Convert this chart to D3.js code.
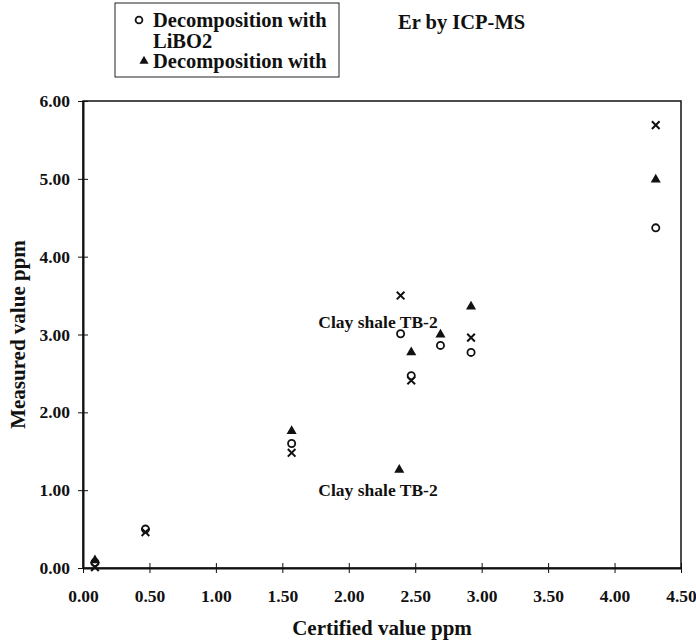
<!DOCTYPE html>
<html>
<head>
<meta charset="utf-8">
<script src="https://cdn.jsdelivr.net/npm/d3@7"></script>
<style>
  body { margin: 0; background: #fff; }
  svg text { font-family: "Liberation Serif", "Times New Roman", serif; font-weight: bold; fill: #111; }
</style>
</head>
<body>
<svg width="696" height="642"></svg>
<script>
// certified (x) and measured (y) values, ppm
const libo2X = [0.09, 0.47, 1.57, 2.39, 2.47, 2.69, 2.92, 4.31];
const libo2Y = [0.07, 0.50, 1.60, 3.01, 2.47, 2.86, 2.77, 4.37];
const triX = [0.09, 1.57, 2.38, 2.47, 2.69, 2.92, 4.31];
const triY = [0.10, 1.76, 1.26, 2.77, 3.00, 3.36, 4.99];
const crossX = [0.09, 0.47, 1.57, 2.39, 2.47, 2.92, 4.31];
const crossY = [0.01, 0.46, 1.48, 3.50, 2.41, 2.96, 5.69];

const xTicks = [0, 0.5, 1, 1.5, 2, 2.5, 3, 3.5, 4, 4.5];
const yTicks = [0, 1, 2, 3, 4, 5, 6];

const notes = [
  { label: 'Clay shale TB-2', x: 2.22, y: 3.08 },
  { label: 'Clay shale TB-2', x: 2.22, y: 0.92 }
];

const svg = d3.select('svg');
const margin = { top: 101, right: 15, bottom: 74, left: 83 };
const width = 696 - margin.left - margin.right;
const height = 642 - margin.top - margin.bottom;

const chart = svg.append('g')
  .attr('transform', `translate(${margin.left}, ${margin.top})`);

const xScale = d3.scaleLinear().domain([0, 4.5]).range([0, width]);
const yScale = d3.scaleLinear().domain([0, 6]).range([height, 0]);

// frame
chart.append('rect')
  .attr('width', width)
  .attr('height', height)
  .attr('fill', 'none')
  .attr('stroke', '#111')
  .attr('stroke-width', 1.5);

const xAxis = chart.append('g')
  .attr('transform', `translate(0, ${height})`)
  .call(d3.axisBottom(xScale).tickValues(xTicks).tickFormat(d3.format('.2f')).tickSizeInner(5).tickSizeOuter(0).tickPadding(17));
xAxis.selectAll('.tick line').attr('y1', -5);

const yAxis = chart.append('g')
  .call(d3.axisLeft(yScale).tickValues(yTicks).tickFormat(d3.format('.2f')).tickSizeInner(5).tickSizeOuter(0).tickPadding(8));
yAxis.selectAll('.tick line').attr('x1', 5);

[xAxis, yAxis].forEach((a) => {
  a.select('.domain').attr('stroke', '#111').attr('stroke-width', 2);
  a.selectAll('.tick line').attr('stroke', '#111').attr('stroke-width', 1);
  a.selectAll('.tick text').style('font-size', '17.5px');
});

// series
chart.selectAll('.circ')
  .data(libo2X.map((x, i) => [x, libo2Y[i]]))
  .enter().append('circle')
  .attr('class', 'circ')
  .attr('cx', (d) => xScale(d[0]))
  .attr('cy', (d) => yScale(d[1]))
  .attr('r', 3.6)
  .attr('fill', 'none')
  .attr('stroke', '#111')
  .attr('stroke-width', 1.8);

const triangle = d3.symbol().type(d3.symbolTriangle).size(44);
chart.selectAll('.tri')
  .data(triX.map((x, i) => [x, triY[i]]))
  .enter().append('path')
  .attr('class', 'tri')
  .attr('d', triangle)
  .attr('transform', (d) => `translate(${xScale(d[0])}, ${yScale(d[1])})`)
  .attr('fill', '#111');

const cross = d3.symbol().type(d3.symbolX).size(40);
chart.selectAll('.cross')
  .data(crossX.map((x, i) => [x, crossY[i]]))
  .enter().append('path')
  .attr('class', 'cross')
  .attr('d', cross)
  .attr('transform', (d) => `translate(${xScale(d[0])}, ${yScale(d[1])})`)
  .attr('fill', 'none')
  .attr('stroke', '#111')
  .attr('stroke-width', 2);

chart.selectAll('.note')
  .data(notes)
  .enter().append('text')
  .attr('class', 'note')
  .attr('x', (d) => xScale(d.x))
  .attr('y', (d) => yScale(d.y))
  .attr('text-anchor', 'middle')
  .style('font-size', '17.5px')
  .text((d) => d.label);

// axis titles
svg.append('text')
  .attr('x', margin.left + width / 2)
  .attr('y', 635)
  .attr('text-anchor', 'middle')
  .style('font-size', '21px')
  .text('Certified value ppm');

svg.append('text')
  .attr('transform', `translate(25, ${margin.top + height / 2}) rotate(-90)`)
  .attr('text-anchor', 'middle')
  .style('font-size', '21px')
  .text('Measured value ppm');

svg.append('text')
  .attr('x', 398)
  .attr('y', 29)
  .style('font-size', '20.5px')
  .text('Er by ICP-MS');

// legend
const legend = svg.append('g').attr('transform', 'translate(115, 3)');
legend.append('rect')
  .attr('width', 224)
  .attr('height', 74)
  .attr('fill', 'none')
  .attr('stroke', '#222')
  .attr('stroke-width', 1);
legend.append('circle')
  .attr('cx', 24).attr('cy', 17).attr('r', 3.4)
  .attr('fill', 'none').attr('stroke', '#111').attr('stroke-width', 1.8);
legend.append('path')
  .attr('d', d3.symbol().type(d3.symbolTriangle).size(36))
  .attr('transform', 'translate(29, 58)')
  .attr('fill', '#111');
const legendLines = ['Decomposition with', 'LiBO2', 'Decomposition with'];
legend.selectAll('.lt')
  .data(legendLines)
  .enter().append('text')
  .attr('class', 'lt')
  .attr('x', 38)
  .attr('y', (d, i) => 24 + i * 20.5)
  .style('font-size', '20.5px')
  .text((d) => d);
</script>
</body>
</html>
